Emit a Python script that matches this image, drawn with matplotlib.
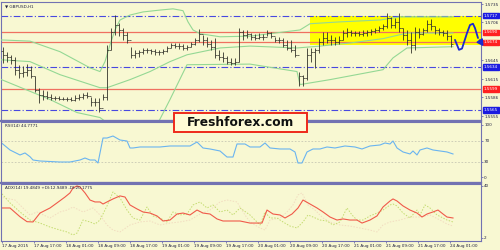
"""
MetaTrader style GBPUSD H1 chart with RSI and ADX sub-windows
"""

import matplotlib
matplotlib.use('Agg')
import matplotlib.pyplot as plt
import matplotlib.transforms as mtransforms
from matplotlib.patches import Rectangle, FancyBboxPatch

symbol = 'GBPUSD,H1'
rsi_title = 'RSI(14) 44.7771'
adx_title = 'ADX(14) 19.4849 +DI:12.9489 -DI:20.1775'
brand = 'Freshforex.com'

# hourly OHLC bars (open = previous close)
first_open = 1.5660
bar_high = [1.5667, 1.5659, 1.5654, 1.5651, 1.5638, 1.5636, 1.5639, 1.5636, 1.5620, 1.5601,
	1.5598, 1.5596, 1.5591, 1.5588, 1.5588, 1.5586, 1.5586, 1.5586, 1.5590, 1.5591,
	1.5593, 1.5594, 1.5586, 1.5585, 1.5585, 1.5591, 1.5670, 1.5697, 1.5718, 1.5705,
	1.5697, 1.5691, 1.5667, 1.5662, 1.5662, 1.5665, 1.5665, 1.5663, 1.5663, 1.5662,
	1.5663, 1.5668, 1.5673, 1.5673, 1.5673, 1.5672, 1.5670, 1.5675, 1.5681, 1.5696,
	1.5686, 1.5683, 1.5678, 1.5681, 1.5662, 1.5659, 1.5652, 1.5649, 1.5649, 1.5697,
	1.5694, 1.5694, 1.5689, 1.5688, 1.5689, 1.5688, 1.5694, 1.5691, 1.5683, 1.5683,
	1.5681, 1.5678, 1.5678, 1.5670, 1.5627, 1.5622, 1.5665, 1.5665, 1.5665, 1.5681,
	1.5691, 1.5691, 1.5686, 1.5683, 1.5684, 1.5694, 1.5697, 1.5694, 1.5692, 1.5692,
	1.5694, 1.5694, 1.5696, 1.5697, 1.5700, 1.5704, 1.5721, 1.5715, 1.5713, 1.5721,
	1.5697, 1.5694, 1.5691, 1.5699, 1.5697, 1.5697, 1.5710, 1.5712, 1.5700, 1.5697,
	1.5694, 1.5694, 1.5686]
bar_low = [1.5641, 1.5643, 1.5639, 1.5622, 1.5617, 1.5618, 1.5620, 1.5617, 1.5594, 1.5577,
	1.5582, 1.5583, 1.5582, 1.5582, 1.5582, 1.5582, 1.5580, 1.5580, 1.5580, 1.5582,
	1.5583, 1.5585, 1.5572, 1.5572, 1.5562, 1.5582, 1.5582, 1.5662, 1.5686, 1.5684,
	1.5678, 1.5673, 1.5649, 1.5649, 1.5651, 1.5655, 1.5657, 1.5655, 1.5654, 1.5654,
	1.5655, 1.5659, 1.5665, 1.5665, 1.5663, 1.5662, 1.5662, 1.5667, 1.5670, 1.5675,
	1.5670, 1.5667, 1.5662, 1.5649, 1.5646, 1.5643, 1.5639, 1.5638, 1.5638, 1.5643,
	1.5678, 1.5681, 1.5678, 1.5678, 1.5680, 1.5678, 1.5684, 1.5681, 1.5675, 1.5673,
	1.5667, 1.5662, 1.5659, 1.5651, 1.5604, 1.5604, 1.5614, 1.5643, 1.5633, 1.5657,
	1.5670, 1.5673, 1.5670, 1.5670, 1.5672, 1.5678, 1.5683, 1.5684, 1.5684, 1.5684,
	1.5684, 1.5684, 1.5686, 1.5689, 1.5691, 1.5694, 1.5697, 1.5697, 1.5697, 1.5691,
	1.5678, 1.5670, 1.5657, 1.5662, 1.5681, 1.5686, 1.5691, 1.5694, 1.5688, 1.5686,
	1.5684, 1.5678, 1.5667]
bar_close = [1.5654, 1.5651, 1.5646, 1.5630, 1.5625, 1.5627, 1.5630, 1.5620, 1.5598, 1.5590,
	1.5588, 1.5586, 1.5585, 1.5585, 1.5583, 1.5583, 1.5583, 1.5582, 1.5585, 1.5586,
	1.5590, 1.5588, 1.5578, 1.5578, 1.5569, 1.5586, 1.5662, 1.5691, 1.5702, 1.5694,
	1.5686, 1.5678, 1.5654, 1.5657, 1.5659, 1.5662, 1.5662, 1.5660, 1.5659, 1.5659,
	1.5660, 1.5665, 1.5670, 1.5668, 1.5668, 1.5665, 1.5667, 1.5672, 1.5678, 1.5688,
	1.5678, 1.5672, 1.5667, 1.5654, 1.5651, 1.5649, 1.5643, 1.5641, 1.5643, 1.5691,
	1.5686, 1.5688, 1.5683, 1.5681, 1.5683, 1.5683, 1.5689, 1.5684, 1.5678, 1.5678,
	1.5670, 1.5665, 1.5662, 1.5654, 1.5620, 1.5617, 1.5654, 1.5659, 1.5662, 1.5675,
	1.5681, 1.5678, 1.5678, 1.5675, 1.5678, 1.5689, 1.5691, 1.5689, 1.5689, 1.5688,
	1.5689, 1.5691, 1.5692, 1.5694, 1.5697, 1.5700, 1.5713, 1.5702, 1.5707, 1.5697,
	1.5686, 1.5678, 1.5670, 1.5691, 1.5688, 1.5694, 1.5704, 1.5700, 1.5694, 1.5691,
	1.5689, 1.5684, 1.5672]

# bollinger bands (20), read at a few bar positions
bb_up_pos = [-0.75, 6.75, 14.25, 21.75, 24.25, 25.5, 26.75, 28, 29.25, 31.75, 35, 39.25, 42.5,
	45, 46.25, 47.5, 49.25, 54.25, 61.75, 74.25, 76.75, 84.25, 94.25, 99.25, 112.5]
bb_up = [1.5678, 1.5676, 1.5659, 1.5633, 1.5627, 1.5643, 1.5670, 1.5694, 1.5710, 1.5718, 1.5723,
	1.5726, 1.5728, 1.5725, 1.5707, 1.5694, 1.5688, 1.5683, 1.5684, 1.5694, 1.5704, 1.5707,
	1.5710, 1.5715, 1.5715]
bb_mid_pos = [-0.75, 6.75, 14.25, 24.25, 26, 31.75, 36.75, 41.75, 46, 54.25, 61.75, 73.5, 79.25,
	86.75, 95, 101, 112.5]
bb_mid = [1.5646, 1.5643, 1.5622, 1.5601, 1.5601, 1.5614, 1.5627, 1.5643, 1.5654, 1.5665, 1.5668,
	1.5665, 1.5668, 1.5673, 1.5680, 1.5689, 1.5689]
bb_low_pos = [-0.75, 11.75, 18.5, 24.25, 26.75, 36.75, 38.5, 41.75, 46, 61.75, 73.5, 74.25, 81.75,
	95, 97.5, 101, 112.5]
bb_low = [1.5615, 1.5582, 1.5561, 1.5553, 1.5541, 1.5533, 1.5541, 1.5582, 1.5638, 1.5639, 1.5627,
	1.5606, 1.5614, 1.5630, 1.5649, 1.5665, 1.5667]

# levels drawn on the chart
red_levels = [1.5690, 1.5674, 1.5599]
blue_levels = [1.5717, 1.5634, 1.5565]
price_ticks = [1.5735, 1.5706, 1.5645, 1.5615, 1.5586, 1.5555]

# forecast zone and path
zone_pos = (76.75, 119.5)
zone_price = (1.5670, 1.5717)
fc_pos = [113.0, 114.0, 114.75, 116.0, 116.75, 117.5, 118.0, 118.75, 120.5]
fc_price = [1.5678, 1.5662, 1.5664, 1.5689, 1.5702, 1.5704, 1.5697, 1.5681, 1.5664]

# RSI(14)
rsi_pos = [-0.75, 1.75, 4.25, 5.5, 6.75, 7.5, 9.25, 14.25, 16.75, 19.25, 20.5, 21.75, 23, 23.75,
	25, 26, 27.5, 29.25, 31, 31.75, 32.5, 34.25, 36.75, 39.25, 41.75, 44.25, 46.75, 48.5, 50,
	51.75, 54.25, 56, 57.5, 58.5, 60.5, 61.75, 64.25, 65.5, 66.75, 69.25, 71.75, 73, 73.75,
	74.75, 76, 77.5, 79.25, 81, 83, 84.25, 85.5, 88, 89.75, 91.75, 94.25, 95.5, 96.75, 97.5,
	98.5, 100, 101.75, 102.5, 103.5, 104.25, 106, 107.5, 109.25, 111, 112.5]
rsi = [68.2, 52.4, 42.9, 46.7, 39.6, 33.3, 31.4, 29.5, 29.5, 33.3, 37.1, 33.3, 33.3, 27.6,
	75.2, 75.2, 79.0, 71.4, 69.5, 56.2, 56.2, 58.1, 58.1, 58.1, 60.0, 60.0, 60.0, 67.6, 56.2,
	54.3, 50.5, 39.0, 39.0, 63.8, 63.8, 58.1, 58.1, 65.7, 56.2, 54.3, 54.3, 48.6, 27.6,
	27.6, 48.6, 54.3, 54.3, 58.1, 56.2, 58.1, 60.0, 58.1, 54.3, 60.0, 61.9, 65.7, 63.8, 69.5,
	56.2, 48.6, 44.8, 50.5, 42.9, 52.4, 56.2, 52.4, 50.5, 48.6, 44.8]

# ADX(14) main line
adx_pos = [-0.75, 1.75, 4.25, 6, 7.5, 9.25, 11.75, 13.5, 15.5, 16.75, 17.5, 18.5, 19.25, 20.5,
	21.75, 23, 24.25, 25, 26, 27.5, 29.25, 30.5, 31.75, 33.5, 35, 36.75, 38.5, 40, 41.75, 43.5,
	45, 46.75, 48.5, 50, 51.75, 53.5, 55, 56.75, 59.25, 61.75, 64.75, 66, 67.5, 69.25, 70.5,
	72.25, 73.75, 75, 76.75, 78.5, 80, 81.75, 83.5, 85, 86.75, 88.5, 89.75, 91.75, 93.5, 95,
	96.75, 97.5, 98.5, 100, 101.75, 103.5, 104.75, 106, 107.5, 108.75, 110, 111, 112.5]
adx = [23.7, 23.7, 17.3, 13.7, 13.5, 20.0, 23.7, 27.4, 31.7, 34.7, 38.3, 39.8, 39.0, 34.7,
	29.5, 28.1, 28.1, 26.6, 28.1, 30.3, 32.5, 31.7, 25.9, 23.0, 20.8, 20.0, 17.9, 14.2, 14.9, 19.3,
	20.0, 18.6, 22.2, 20.0, 19.3, 15.7, 14.2, 14.2, 14.2, 12.7, 12.7, 22.2, 19.3, 18.6, 16.4,
	19.3, 23.7, 29.5, 26.6, 23.7, 20.8, 17.1, 14.9, 15.7, 14.9, 14.9, 12.7, 14.9, 17.9, 24.4,
	28.8, 30.3, 28.8, 25.2, 22.2, 20.0, 17.1, 19.3, 20.8, 22.2, 19.3, 17.1, 16.4]

# +DI (green dotted)
pdi_pos = [-0.75, 1.75, 4.25, 6.75, 9.25, 11.75, 14.25, 16, 17.5, 18.5, 20, 21.75, 23, 24.25,
	26, 27.5, 29.25, 31, 32.5, 34.25, 36, 37.5, 39.25, 41, 42.5, 44.25, 46, 47.5, 49.25, 51,
	52.5, 54.25, 56, 57.5, 59.25, 61.75, 64.25, 65.5, 66.75, 68.5, 70, 71.75, 73.5, 75, 76.25,
	77.5, 79.25, 81, 82.5, 84.25, 86, 87.25, 88.5, 90, 91.75, 93.5, 95, 96.75, 97.5, 98.5, 100,
	101.75, 103.5, 104.25, 105.5, 106.75, 108.5, 110, 111, 112.5]
pdi = [35.6, 27.4, 20.8, 14.9, 12.7, 9.8, 7.6, 6.2, 4.0, 5.4, 14.9, 13.5, 12.0, 14.9,
	25.2, 35.4, 31.0, 22.2, 16.4, 14.9, 24.4, 17.9, 16.4, 13.5, 20.8, 18.6, 19.3, 25.9, 28.1, 23.7,
	25.9, 20.8, 22.2, 18.6, 23.7, 18.6, 11.3, 20.8, 16.4, 16.4, 13.5, 10.5, 9.1, 13.5, 18.6,
	17.1, 14.9, 14.2, 11.3, 13.5, 23.7, 18.6, 14.9, 14.9, 17.9, 20.0, 22.2, 25.9, 26.6, 25.2, 20.0,
	16.4, 22.2, 18.6, 25.9, 23.7, 18.6, 16.4, 14.9, 13.5]

# -DI (pale dotted)
mdi_pos = [-0.75, 3, 6.75, 8.5, 11.75, 14.25, 16, 17.5, 20, 22.5, 24.25, 26, 27.5, 29.25, 31.75,
	34.25, 36.75, 39.25, 41.75, 44.25, 46.75, 49.25, 51.75, 54.25, 56, 58.5, 60.5, 61.75, 64.25,
	65.5, 66.75, 69.25, 71, 72.5, 73.75, 74.75, 76.25, 78, 80, 81.75, 84.25, 86.75, 89.25, 91.75,
	93.5, 95, 96.75, 99.25, 101.75, 104.25, 106.75, 109.25, 111, 112.5]
mdi = [31.7, 29.5, 18.6, 20.8, 16.4, 20.8, 22.2, 24.4, 20.8, 23.7, 18.6, 11.3, 7.6, 6.2, 11.3,
	13.5, 14.2, 11.3, 12.7, 13.5, 14.9, 19.3, 22.2, 28.1, 29.5, 28.1, 18.6, 13.5, 9.1,
	7.6, 14.9, 16.4, 20.8, 25.9, 33.2, 34.7, 25.9, 22.2, 16.4, 13.5, 11.3, 10.5, 9.1, 7.6,
	6.2, 11.3, 13.5, 14.9, 17.1, 17.1, 18.6, 14.9, 12.0, 10.5]

time_labels = ['17 Aug 2015', '17 Aug 17:00', '18 Aug 01:00', '18 Aug 09:00', '18 Aug 17:00',
	'19 Aug 01:00', '19 Aug 09:00', '19 Aug 17:00', '20 Aug 01:00', '20 Aug 09:00',
	'20 Aug 17:00', '21 Aug 01:00', '21 Aug 09:00', '21 Aug 17:00', '24 Aug 01:00']

BG = '#f8f8d2'
FRAME = '#7272b2'
TXT = '#202040'
W, H = 500, 250
FS = 3.0


def panel(fig, top, bottom, left=1, right=481):
	"""
	Helper to add an axes given pixel edges of the figure.
	"""
	ax = fig.add_axes([left / W, 1 - bottom / H, (right - left) / W, (bottom - top) / H])
	ax.set_facecolor(BG)
	ax.set_xlim(-0.5, 119.5)
	ax.set_xticks([])
	ax.yaxis.tick_right()
	ax.tick_params(axis='y', length=1.5, width=0.6, color=FRAME, pad=0.8, labelsize=FS, labelcolor=TXT)
	for side in ['left', 'top', 'right', 'bottom']:
		ax.spines[side].set_color(FRAME)
		ax.spines[side].set_linewidth(0.8)
	return ax


def price_box(ax, y, color):
	trans = mtransforms.blended_transform_factory(ax.transAxes, ax.transData)
	ax.text(1.006, y, '%.4f' % y, transform=trans, fontsize=FS, color='white', va='center', ha='left',
		bbox=dict(boxstyle='square,pad=0.2', fc=color, ec=color), clip_on=False, zorder=10)


fig = plt.figure(figsize=(5, 2.5), dpi=100, facecolor=BG)

# main price window
ax = panel(fig, 2, 120)
ax.set_ylim(1.5549, 1.5739)
ax.set_yticks(price_ticks)
ax.set_yticklabels(['%.4f' % p for p in price_ticks])

ax.add_patch(Rectangle((zone_pos[0], zone_price[0]), zone_pos[1] - zone_pos[0], zone_price[1] - zone_price[0],
	color='#ffff00', linewidth=0, zorder=1))

for lvl in red_levels:
	ax.axhline(lvl, color='#f07060', lw=0.9, zorder=2)
	price_box(ax, lvl, '#ff2020')
for lvl in blue_levels:
	ax.axhline(lvl, color='#4848e0', lw=0.8, ls=(0, (6, 2, 1, 2)), zorder=2)
	price_box(ax, lvl, '#1c1ce0')

bb_col = '#94d894'
ax.plot(bb_up_pos, bb_up, color=bb_col, lw=0.8, zorder=3)
ax.plot(bb_mid_pos, bb_mid, color=bb_col, lw=0.8, zorder=3)
ax.plot(bb_low_pos, bb_low, color=bb_col, lw=0.8, zorder=3)

# OHLC bars
xs = list(range(len(bar_close)))
opens = [first_open] + bar_close[:-1]
bar_col = '#33332a'
ax.vlines(xs, bar_low, bar_high, color=bar_col, lw=0.6, zorder=4)
ax.hlines(opens, [x - 0.4 for x in xs], xs, color=bar_col, lw=0.5, zorder=4)
ax.hlines(bar_close, xs, [x + 0.4 for x in xs], color=bar_col, lw=0.5, zorder=4)

# forecast arrow
ax.plot(fc_pos[:-1], fc_price[:-1], color='#1a2ad0', lw=1.3, zorder=12, clip_on=False, solid_capstyle='round')
ax.annotate('', xy=(fc_pos[-1], fc_price[-1]), xytext=(fc_pos[-2], fc_price[-2]), annotation_clip=False,
	arrowprops=dict(arrowstyle='-|>,head_length=0.35,head_width=0.2', color='#1a2ad0', lw=1.3), zorder=12)

ax.text(0.008, 0.975, '\u25bc ' + symbol, transform=ax.transAxes, fontsize=FS, va='top', color=TXT)

# RSI window
ax2 = panel(fig, 122, 182)
ax2.set_ylim(-8.6, 105.7)
ax2.set_yticks([0, 30, 70, 100])
ax2.set_yticklabels(['0', '30', '70', '100'])
for lvl in [30, 70]:
	ax2.axhline(lvl, color='#c8c8b4', lw=0.6, ls=(0, (2, 2)))
ax2.plot(rsi_pos, rsi, color='#6ab4f0', lw=0.8)
ax2.text(0.008, 0.97, rsi_title, transform=ax2.transAxes, fontsize=FS, va='top', color=TXT)

# ADX window
ax3 = panel(fig, 184, 241)
ax3.set_ylim(-0.4, 41.2)
ax3.set_yticks([2, 40])
ax3.set_yticklabels(['2', '40'])
ax3.plot(mdi_pos, mdi, color='#f2dcc0', lw=0.7, ls=(0, (1.5, 1.5)))
ax3.plot(pdi_pos, pdi, color='#c4dc70', lw=0.7, ls=(0, (1.5, 1.5)))
ax3.plot(adx_pos, adx, color='#f05a4a', lw=0.8)
ax3.text(0.008, 0.97, adx_title, transform=ax3.transAxes, fontsize=FS, va='top', color=TXT)
ax3.set_xticks([8 * k - 0.3 for k in range(len(time_labels))])
ax3.set_xticklabels(time_labels, ha='left')
ax3.tick_params(axis='x', length=1.5, width=0.6, color=FRAME, pad=0.8, labelsize=FS, labelcolor=TXT)

# thick separators between windows
for yy in [120.5, 182.5]:
	fig.add_artist(plt.Line2D([1 / W, 481 / W], [1 - yy / H, 1 - yy / H], color=FRAME, lw=1.6))

# brand box
fig.patches.append(FancyBboxPatch((174 / W, 1 - 132 / H), 133 / W, 19 / H, boxstyle='square,pad=0',
	transform=fig.transFigure, fc='#fffbd6', ec='#ee2a1a', lw=1.4, zorder=20))
fig.text(240 / W, 1 - 122.5 / H, brand, fontsize=8.8, fontweight='bold', color='#111111',
	ha='center', va='center', zorder=21)

fig.savefig('out.png', dpi=100, facecolor=BG)
